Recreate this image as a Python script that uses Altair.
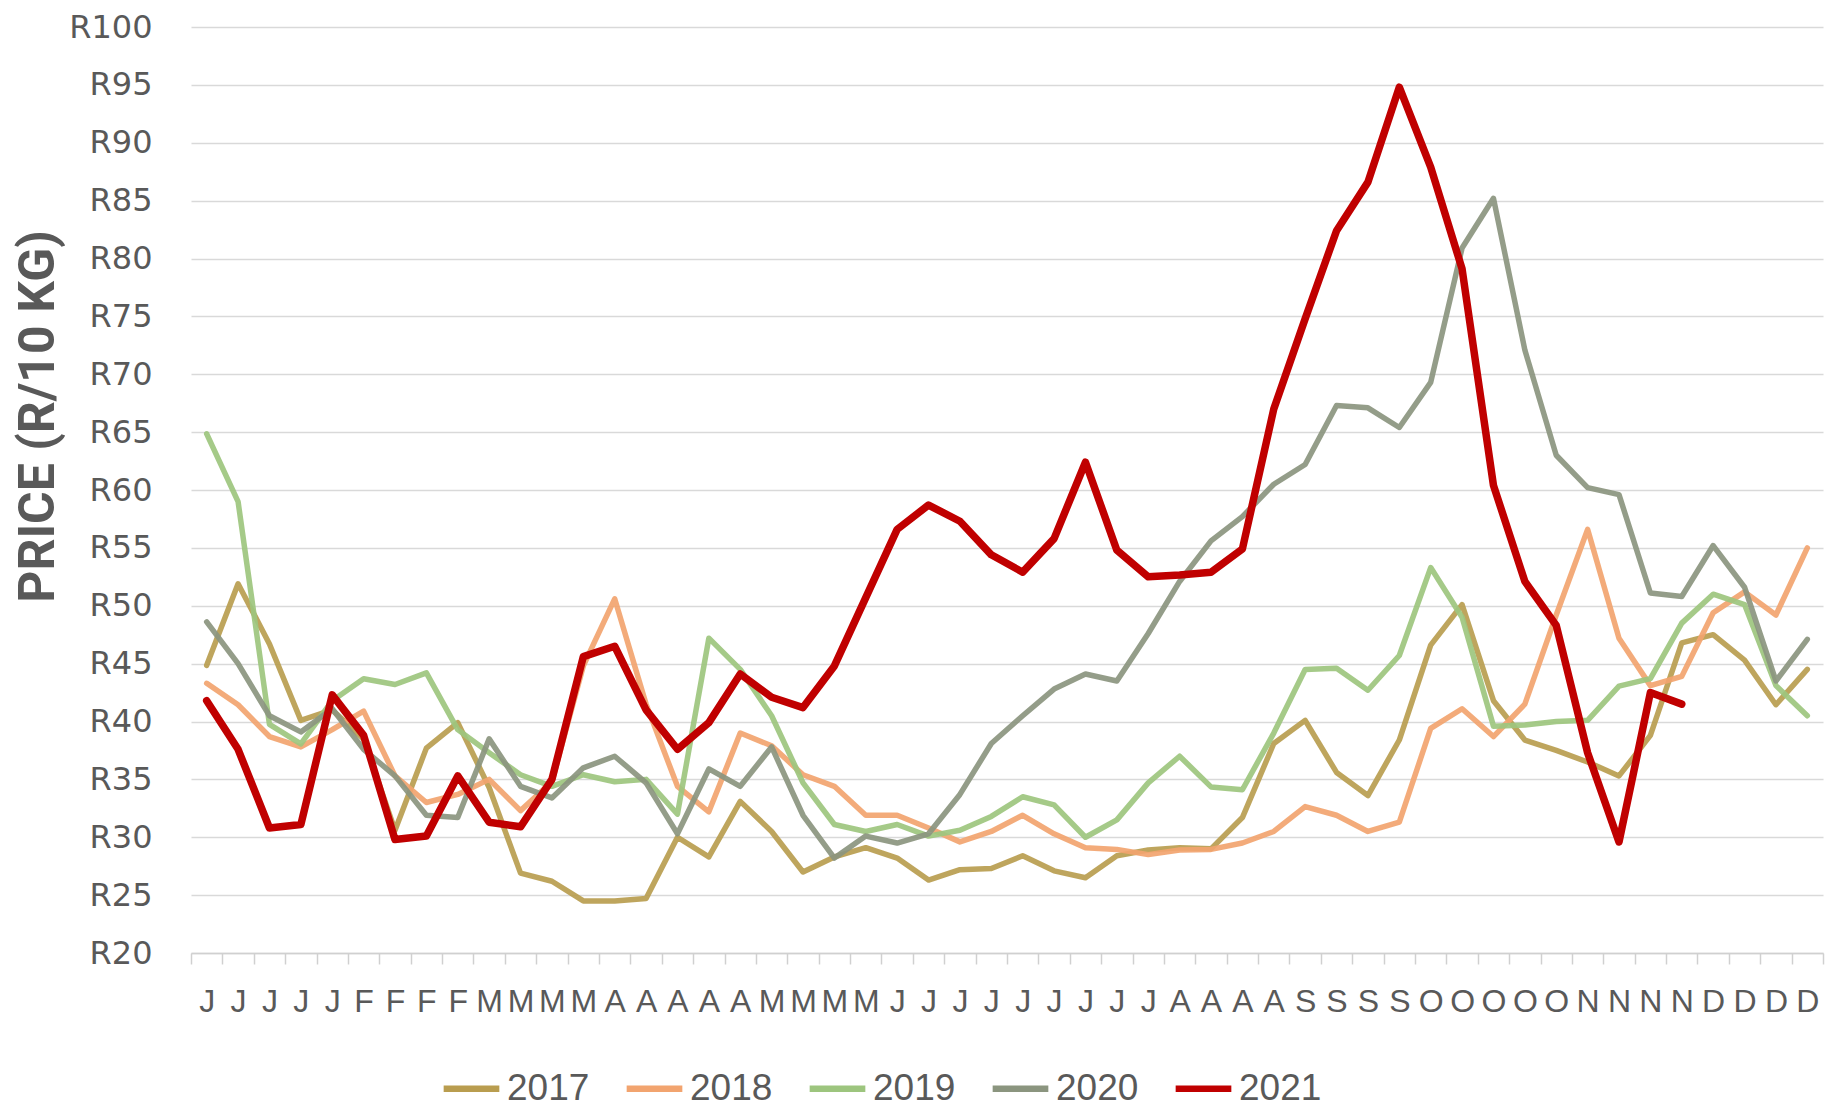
import altair as alt
import pandas as pd

months = ["J","J","J","J","J","F","F","F","F","M","M","M","M","A","A","A","A","A",
          "M","M","M","M","J","J","J","J","J","J","J","J","J","A","A","A","A",
          "S","S","S","S","O","O","O","O","O","N","N","N","N","D","D","D","D"]

y2017 = [44.85, 51.9, 46.7, 40.1, 41.0, 38.5, 30.6, 37.7, 39.9, 34.3, 26.9, 26.2, 24.5,
         24.5, 24.7, 30.0, 28.3, 33.1, 30.5, 27.0, 28.3, 29.1, 28.2, 26.3, 27.2, 27.3,
         28.4, 27.1, 26.5, 28.4, 28.9, 29.1, 29.0, 31.7, 38.1, 40.1, 35.6, 33.6, 38.4,
         46.6, 50.1, 41.8, 38.4, 37.5, 36.5, 35.3, 38.8, 46.8, 47.5, 45.3, 41.45, 44.5]
y2018 = [43.3, 41.45, 38.7, 37.8, 39.3, 40.9, 35.3, 33.0, 33.7, 35.0, 32.3, 34.8, 44.8,
         50.6, 41.5, 34.4, 32.2, 39.0, 37.9, 35.4, 34.4, 31.9, 31.9, 30.8, 29.6, 30.5,
         31.9, 30.3, 29.1, 28.95, 28.5, 28.9, 28.95, 29.5, 30.5, 32.65, 31.9, 30.5, 31.3,
         39.4, 41.1, 38.7, 41.5, 49.2, 56.6, 47.2, 43.1, 43.9, 49.4, 51.2, 49.2, 55.0]
y2019 = [64.85, 59.0, 39.75, 38.06, 41.8, 43.7, 43.2, 44.2, 39.3, 37.3, 35.4, 34.4, 35.4,
         34.8, 35.0, 32.0, 47.2, 44.5, 40.5, 34.7, 31.1, 30.5, 31.1, 30.1, 30.6, 31.8,
         33.5, 32.8, 30.0, 31.5, 34.7, 37.0, 34.35, 34.1, 39.0, 44.5, 44.6, 42.7, 45.7,
         53.3, 49.0, 39.6, 39.7, 40.0, 40.1, 43.05, 43.7, 48.5, 51.0, 50.1, 43.1, 40.5]
y2020 = [48.6, 45.0, 40.5, 39.1, 41.1, 37.6, 35.3, 31.9, 31.7, 38.5, 34.4, 33.4, 36.0,
         37.0, 34.7, 30.3, 35.9, 34.4, 37.8, 31.9, 28.2, 30.1, 29.5, 30.3, 33.7, 38.1,
         40.5, 42.8, 44.1, 43.5, 47.6, 52.1, 55.6, 57.7, 60.5, 62.2, 67.3, 67.1, 65.4,
         69.3, 80.9, 85.2, 72.1, 63.0, 60.2, 59.6, 51.1, 50.8, 55.2, 51.6, 43.5, 47.1]
y2021 = [41.8, 37.6, 30.8, 31.1, 42.3, 38.8, 29.8, 30.1, 35.3, 31.3, 30.9, 35.0, 45.6,
         46.5, 41.0, 37.6, 39.9, 44.1, 42.1, 41.2, 44.8, 50.7, 56.6, 58.7, 57.3, 54.4,
         52.9, 55.8, 62.4, 54.8, 52.5, 52.65, 52.9, 54.9, 67.0, 74.8, 82.4, 86.6, 94.8,
         87.9, 79.1, 60.4, 52.1, 48.3, 37.3, 29.6, 42.5, 41.5]

years = ["2017", "2018", "2019", "2020", "2021"]
series = [y2017, y2018, y2019, y2020, y2021]
colors = ["#B99D4F", "#F2A46F", "#9DC57E", "#8B957F", "#C00000"]

rows = []
for yr, vals in zip(years, series):
    for i, v in enumerate(vals):
        rows.append({"week": i, "year": yr, "price": v})
df = pd.DataFrame(rows)

label_expr = "[" + ",".join("'%s'" % m for m in months) + "][datum.value]"
GRAY = "#595959"

x_enc = alt.X("week:O",
              scale=alt.Scale(type="band", paddingInner=0, paddingOuter=0),
              axis=alt.Axis(title=None, labelExpr=label_expr, labelAngle=0,
                            tickBand="extent", ticks=True, tickSize=11,
                            tickColor="#d0d0d0", tickWidth=1.5,
                            domain=True, domainColor="#d0d0d0", domainWidth=1.5,
                            grid=False, labelFont="Liberation Sans",
                            labelFontSize=32, labelColor=GRAY, labelPadding=22,
                            labelBaseline="top"))
y_enc = alt.Y("price:Q",
              scale=alt.Scale(domain=[20, 100], nice=False, zero=False),
              axis=alt.Axis(values=list(range(20, 101, 5)), labelExpr="'R' + datum.value",
                            title="PRICE (R/10 KG)", titleFont="Roboto",
                            titleFontWeight="bold", titleFontSize=50, titleColor=GRAY,
                            titleAngle=270, titleX=-153, titleY=389,
                            titleAlign="center", titleBaseline="middle",
                            domain=False, ticks=False, grid=True,
                            gridColor="#d9d9d9", gridWidth=1.5,
                            labelFont="DejaVu Sans", labelFontSize=32,
                            labelColor=GRAY, labelPadding=39))
c_enc = alt.Color("year:N",
                  scale=alt.Scale(domain=years, range=colors),
                  legend=alt.Legend(title=None, orient="none", direction="horizontal",
                                    legendX=249, legendY=1030,
                                    symbolType="stroke", symbolSize=3100,
                                    symbolStrokeWidth=6.5,
                                    labelFont="Liberation Sans",
                                    labelFontSize=37, labelColor=GRAY,
                                    labelOffset=4, columnPadding=23))

base = alt.Chart(df).encode(x=x_enc, y=y_enc, color=c_enc)

older = base.mark_line(strokeWidth=5.5, strokeOpacity=0.92, strokeJoin="round",
                       strokeCap="round").transform_filter(alt.datum.year != "2021")
latest = base.mark_line(strokeWidth=7.5, strokeJoin="round",
                        strokeCap="round").transform_filter(alt.datum.year == "2021")

chart = alt.layer(older, latest).properties(
    width=1632, height=926,
    autosize=alt.AutoSizeParams(type="none"),
    padding={"left": 183, "top": 19, "right": 4, "bottom": 160},
).configure_view(stroke=None)

chart.save("out.html", embed_options={"renderer": "svg", "actions": False})
